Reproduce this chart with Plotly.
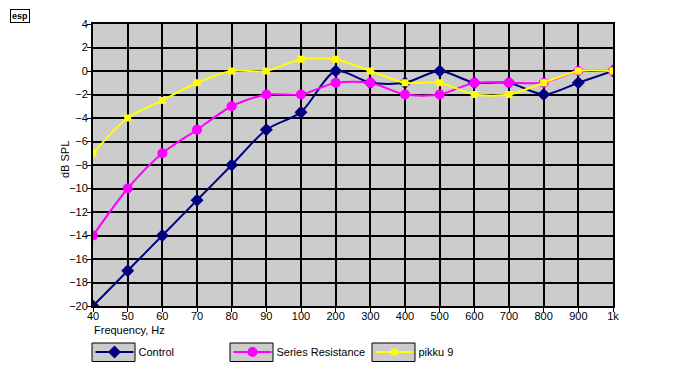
import plotly.graph_objects as go

freqs = ["40", "50", "60", "70", "80", "90", "100", "200", "300", "400", "500", "600", "700", "800", "900", "1k"]
control = [-20, -17, -14, -11, -8, -5, -3.5, 0, -1, -1, 0, -1, -1, -2, -1, 0]
series_res = [-14, -10, -7, -5, -3, -2, -2, -1, -1, -2, -2, -1, -1, -1, 0, 0]
pikku9 = [-7, -4, -2.5, -1, 0, 0, 1, 1, 0, -1, -1, -2, -2, -1, 0, 0]
y_ticks = list(range(-20, 5, 2))

FONT = "Liberation Sans, Arial, sans-serif"
FS = 11
OFF = 8  # page body margin
# target plot area (in screenshot pixels): x 93..613, y 24..306
L, T = 93 - OFF, 24 - OFF
PW, PH = 520, 282
R, B = 700 - L - PW, 375 - T - PH


def px(x):
    return (x - OFF - L) / PW


def py(y):
    return (375 - B - (y - OFF)) / PH


fig = go.Figure()
fig.add_trace(go.Scatter(x=freqs, y=control, name="Control", mode="lines+markers", legend="legend",
                         line=dict(color="#000080", width=2, shape="spline", smoothing=0.8),
                         marker=dict(symbol="diamond", size=10, color="#000080")))
fig.add_trace(go.Scatter(x=freqs, y=series_res, name="Series Resistance", mode="lines+markers", legend="legend2",
                         line=dict(color="#ff00ff", width=2, shape="spline", smoothing=0.8),
                         marker=dict(symbol="circle", size=10, color="#ff00ff")))
fig.add_trace(go.Scatter(x=freqs, y=pikku9, name="pikku 9", mode="lines+markers", legend="legend3",
                         line=dict(color="#ffff00", width=2, shape="spline", smoothing=0.8),
                         marker=dict(symbol="square", size=7, color="#ffff00")))

leg_common = dict(orientation="h", yanchor="middle", xanchor="left", bgcolor="rgba(0,0,0,0)",
                  font=dict(size=FS, family=FONT), borderwidth=0, itemwidth=38)
box_x = [92, 230, 372]
fig.update_layout(
    width=700, height=375,
    margin=dict(l=L, r=R, t=T, b=B, autoexpand=False),
    paper_bgcolor="white", plot_bgcolor="#cccccc",
    font=dict(family=FONT, size=FS, color="black"),
    showlegend=True,
    legend=dict(x=px(box_x[0] + 1.5 - 3), y=py(352), **leg_common),
    legend2=dict(x=px(box_x[1] + 1.5 - 3), y=py(352), **leg_common),
    legend3=dict(x=px(box_x[2] + 1.5 - 3), y=py(352), **leg_common),
)
fig.update_xaxes(type="category", categoryorder="array", categoryarray=freqs,
                 range=[0, 15], showgrid=True, gridcolor="black", gridwidth=2,
                 showline=True, linecolor="black", linewidth=2, mirror=True,
                 ticks="outside", ticklen=4, tickcolor="black", ticklabelstandoff=-5,
                 tickfont=dict(size=FS), zeroline=False)
fig.update_yaxes(range=[-20, 4], tickvals=y_ticks, showgrid=True, gridcolor="black", gridwidth=2,
                 showline=True, linecolor="black", linewidth=2, mirror=True,
                 ticks="outside", ticklen=4, tickcolor="black", ticklabelstandoff=-3, zeroline=False,
                 tickfont=dict(size=FS))

fig.add_annotation(text="dB SPL", xref="paper", yref="paper", x=px(65), y=py(160),
                   textangle=-90, showarrow=False, font=dict(size=FS), xanchor="center", yanchor="middle")
fig.add_annotation(text="Frequency, Hz", xref="paper", yref="paper", x=px(92), y=py(330),
                   showarrow=False, font=dict(size=FS), xanchor="left", yanchor="middle")
fig.add_annotation(text="<b>esp</b>", xref="paper", yref="paper", x=px(10), y=py(9),
                   showarrow=False, font=dict(size=9), xanchor="left", yanchor="top",
                   bordercolor="black", borderwidth=1, borderpad=1)

# legend boxes
for x0 in box_x:
    fig.add_shape(type="rect", xref="paper", yref="paper",
                  x0=px(x0), x1=px(x0 + 43), y0=py(343), y1=py(361.5),
                  line=dict(color="black", width=1), fillcolor="#cccccc", layer="below")

fig.write_html("out.html")
